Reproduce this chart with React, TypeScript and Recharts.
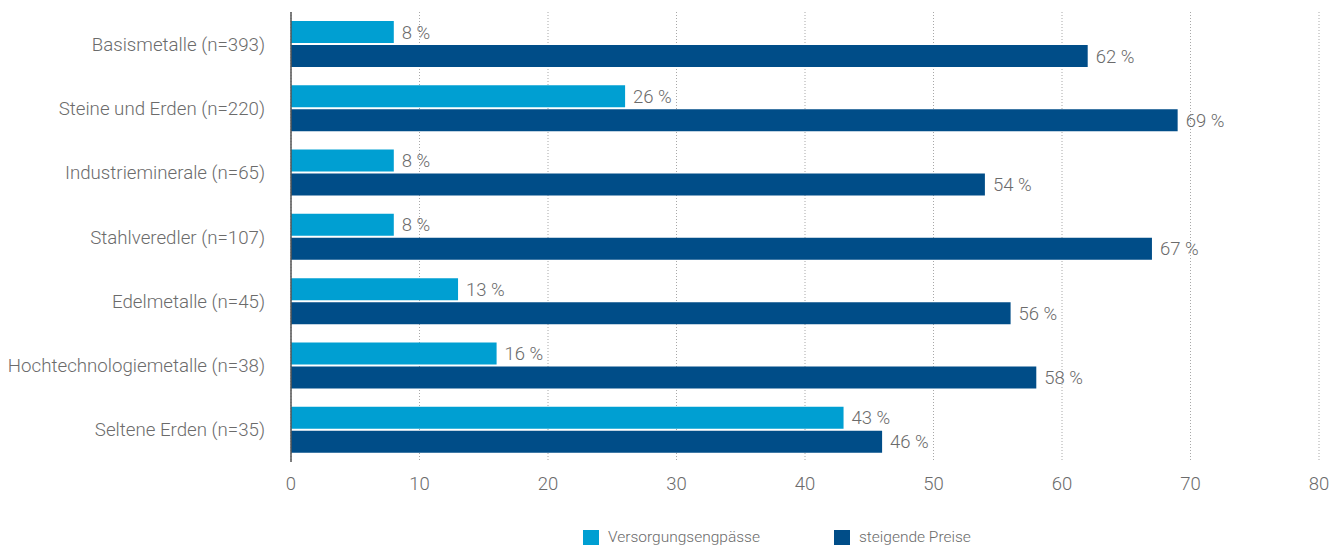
import React from 'react'
import { Bar, BarChart, CartesianGrid, LabelList, Legend, XAxis, YAxis } from 'recharts'

if (typeof document !== 'undefined') document.body.style.margin = '0'

const categories = [
  'Basismetalle (n=393)',
  'Steine und Erden (n=220)',
  'Industrieminerale (n=65)',
  'Stahlveredler (n=107)',
  'Edelmetalle (n=45)',
  'Hochtechnologiemetalle (n=38)',
  'Seltene Erden (n=35)'
]
const versorgung = [8, 26, 8, 8, 13, 16, 43]
const preise = [62, 69, 54, 67, 56, 58, 46]
const xTicks = [0, 10, 20, 30, 40, 50, 60, 70, 80]

const seriesInfo = [
  { key: 'versorgung', name: 'Versorgungsengpässe', color: '#009fd2' },
  { key: 'preise', name: 'steigende Preise', color: '#004d88' }
]

const FONT = 'Roboto, "Noto Sans", sans-serif'
const TEXT = '#6b6b6b'

const data = categories.map((name, i) => ({ name, versorgung: versorgung[i], preise: preise[i] }))

function LegendContent() {
  return (
    <div style={{ display: 'flex', alignItems: 'center', fontFamily: FONT, fontWeight: 300, fontSize: 15.5, color: TEXT }}>
      {seriesInfo.map((s, i) => (
        <div key={s.key} style={{ display: 'flex', alignItems: 'center', marginRight: i === 0 ? 74 : 0 }}>
          <span style={{ display: 'inline-block', width: 16, height: 15, background: s.color, marginRight: 9 }} />
          <span>{s.name}</span>
        </div>
      ))}
    </div>
  )
}

export default function App() {
  return (
    <BarChart
      width={1342}
      height={549}
      data={data}
      layout="vertical"
      margin={{ top: 12, right: 23, left: 0, bottom: 29 }}
      barCategoryGap={9}
      barGap={2}
      barSize={22}
    >
      <CartesianGrid horizontal={false} stroke="#a8a8a8" strokeDasharray="1 2" />
      <XAxis
        type="number"
        domain={[0, 80]}
        ticks={xTicks}
        axisLine={false}
        tickLine={false}
        tickSize={0}
        tickMargin={15}
        height={40}
        tick={{ fill: TEXT, fontSize: 18.5, fontFamily: FONT, fontWeight: 300 }}
      />
      <YAxis
        type="category"
        dataKey="name"
        width={291}
        axisLine={{ stroke: '#555', strokeWidth: 1.5 }}
        tickLine={false}
        tickSize={0}
        tickMargin={26}
        tick={{ fill: TEXT, fontSize: 18.7, fontFamily: FONT, fontWeight: 300 }}
      />
      <Legend
        verticalAlign="bottom"
        content={<LegendContent />}
        wrapperStyle={{ top: 528, bottom: 'auto', left: 583, width: 'auto' }}
      />
      {seriesInfo.map((s) => (
        <Bar key={s.key} dataKey={s.key} name={s.name} fill={s.color} isAnimationActive={false}>
          <LabelList
            dataKey={s.key}
            position="right"
            offset={8}
            formatter={(v: number) => `${v} %`}
            style={{ fill: TEXT, fontSize: 18.5, fontFamily: FONT, fontWeight: 300 }}
          />
        </Bar>
      ))}
    </BarChart>
  )
}
